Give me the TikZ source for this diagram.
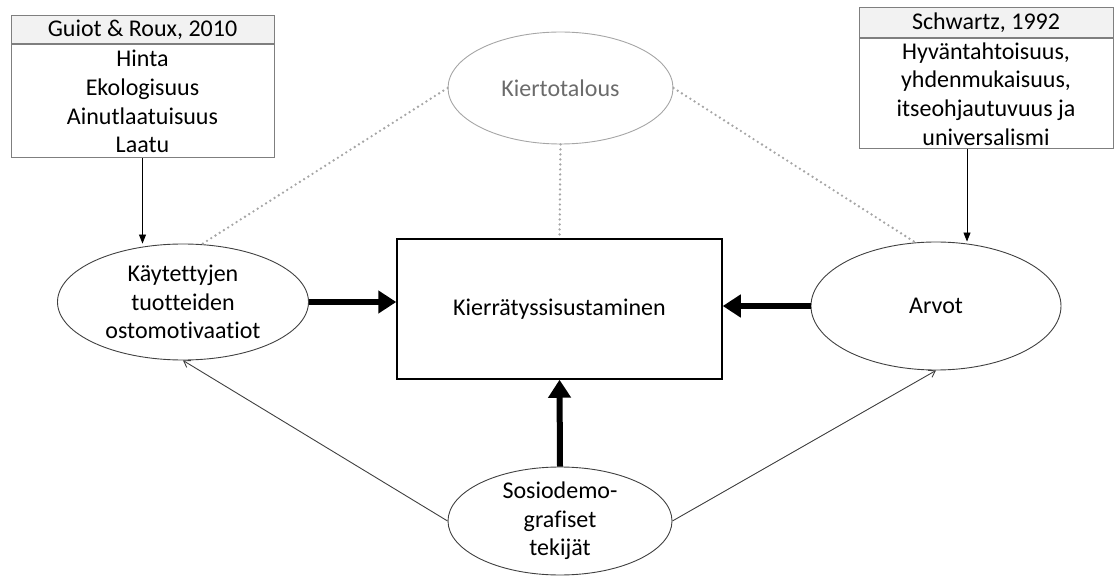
\documentclass[tikz,border=0pt]{standalone}
\usepackage{fontspec}
\setmainfont{Carlito}[Ligatures=NoCommon]
\usetikzlibrary{shapes.geometric,arrows.meta}
\definecolor{boxgray}{HTML}{7F7F7F}
\definecolor{headfill}{HTML}{F2F2F2}
\definecolor{dotgray}{HTML}{A6A6A6}
\definecolor{kiertxt}{HTML}{6B6B6B}
\definecolor{ellgray}{HTML}{404040}
\begin{document}
\begin{tikzpicture}[x=1pt,y=-1pt,
  txt/.style={font=\fontsize{24}{28.7}\selectfont, align=center},
  srcbox/.style={txt, draw=boxgray, line width=1pt, inner sep=0pt},
  ell/.style={ellipse, draw=ellgray, line width=0.9pt, inner sep=0pt},
  lbl/.style={txt, inner sep=0pt},
  thinarrow/.style={line width=0.9pt, -{Triangle[length=9pt,width=7pt]}},
  openarrow/.style={draw=ellgray, line width=0.9pt, -{Straight Barb[length=6pt,width=8pt]}},
  thickarrow/.style={line width=6pt, -{Triangle[length=18pt,width=22pt]}},
  dotline/.style={draw=dotgray, line width=2.6pt, dash pattern=on 0pt off 5pt, line cap=round}
]
\useasboundingbox (0,0) rectangle (1114,577);

% source boxes
\node[srcbox, fill=headfill, minimum width=263pt, minimum height=28pt] (lhead) at (142.5,30) {Guiot \& Roux, 2010};
\node[srcbox, minimum width=263pt, minimum height=113pt] (lbody) at (142.5,101.5) {Hinta\\Ekologisuus\\Ainutlaatuisuus\\Laatu};
\node[srcbox, fill=headfill, minimum width=254pt, minimum height=30pt] (rhead) at (986,23) {Schwartz, 1992};
\node[srcbox, minimum width=254pt, minimum height=110pt] (rbody) at (986,94) {Hyväntahtoisuus,\\yhdenmukaisuus,\\itseohjautuvuus ja\\universalismi};

% ellipses
\node[ell, draw=dotgray, minimum width=225pt, minimum height=112pt,
      label={[lbl, text=kiertxt]center:Kiertotalous}] (kier) at (560.5,88) {};
\node[ell, minimum width=251pt, minimum height=116pt,
      label={[lbl]center:Käytettyjen\\tuotteiden\\ostomotivaatiot}] (lmot) at (183,302) {};
\node[ell, minimum width=250pt, minimum height=128pt,
      label={[lbl]center:Arvot}] (arv) at (936,306) {};
\node[ell, minimum width=224pt, minimum height=108pt,
      label={[lbl]center:Sosiodemo-\\grafiset\\tekijät}] (soc) at (560,521) {};

% central box
\node[txt, draw=black, line width=1.5pt, minimum width=325pt, minimum height=140pt] (rect) at (559.5,309) {Kierrätyssisustaminen};

% dotted connectors
\draw[dotline] (kier.west) -- (lmot.72);
\draw[dotline] (kier.east) -- (arv.108);
\draw[dotline] (kier.south) -- (rect.north);

% thin arrows from source boxes
\draw[thinarrow] (lbody.south) -- (lbody.south |- lmot.north);
\draw[thinarrow] ([xshift=-19pt]rbody.south) -- ([xshift=-19pt]rbody.south |- arv.north);

% thick arrows
\draw[thickarrow] (lmot.east) -- (lmot.east -| rect.west);
\draw[thickarrow] (arv.west) -- (arv.west -| rect.east);
\draw[thickarrow] (soc.north) -- (rect.south);

% arrows from socio-demographic factors
\draw[openarrow] (soc.west) -- (lmot.south);
\draw[openarrow] (soc.east) -- (arv.south);
\end{tikzpicture}
\end{document}
